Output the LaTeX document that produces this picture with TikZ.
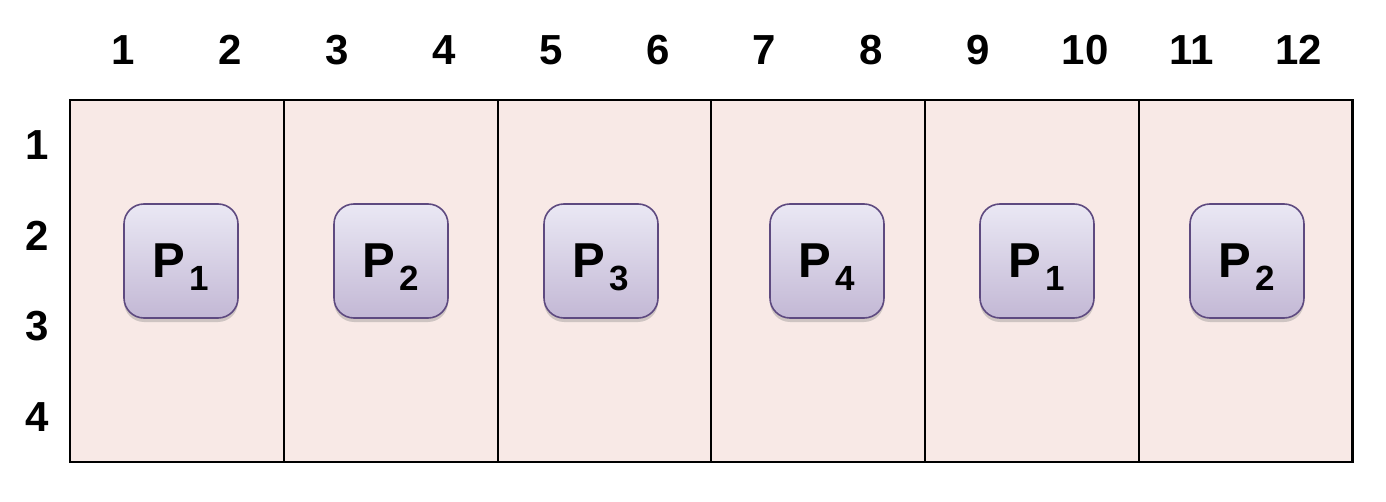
\documentclass[tikz,border=0pt]{standalone}
\usepackage{fontspec}
\setmainfont{Liberation Sans}
\usetikzlibrary{shadows}

\definecolor{cellpink}{HTML}{F8E9E6}
\definecolor{proctop}{HTML}{EAE8F4}
\definecolor{procbot}{HTML}{C3B8D5}
\definecolor{procline}{HTML}{5E4A80}

\newcommand{\procname}[1]{P\hspace{2pt}\raisebox{-6.5pt}{\fontsize{17.5}{20}\selectfont #1}}

\begin{document}
\begin{tikzpicture}[x=0.5pt, y=-0.5pt,
    block/.style={rectangle, draw=black, line width=1.1pt, fill=cellpink,
        minimum width=106.85pt, minimum height=181pt, inner sep=0pt},
    proc/.style={rectangle, rounded corners=10pt, draw=procline, line width=0.8pt,
        top color=proctop, bottom color=procbot, text depth=0pt,
        minimum size=57pt, inner sep=0pt, font=\fontsize{24.5}{28}\selectfont\bfseries,
        drop shadow={shadow xshift=0pt, shadow yshift=-2pt, opacity=0.35, fill=gray}},
    num/.style={font=\fontsize{21}{24}\selectfont\bfseries}
]
    \useasboundingbox (0,0) rectangle (1386,502);
    % blocks of two columns each
    \node[block] (b1) at (177.1,281) {};
    \node[block] (b2) at (390.8,281) {};
    \node[block] (b3) at (604.5,281) {};
    \node[block] (b4) at (818.2,281) {};
    \node[block] (b5) at (1031.9,281) {};
    \node[block] (b6) at (1245.6,281) {};
    % column and row numbers
    \foreach \c in {1,...,12}
        \node[num] (col\c) at ({70+106.85*(\c-0.5)},50) {\c};
    \foreach \r in {1,...,4}
        \node[num] (row\r) at (37,{100+90.5*(\r-0.5)}) {\r};
    % processes
    \node[proc] (p1) at (181,261) {\procname{1}};
    \node[proc] (p2) at (391,261) {\procname{2}};
    \node[proc] (p3) at (601,261) {\procname{3}};
    \node[proc] (p4) at (827,261) {\procname{4}};
    \node[proc] (p5) at (1037,261) {\procname{1}};
    \node[proc] (p6) at (1247,261) {\procname{2}};
\end{tikzpicture}
\end{document}
